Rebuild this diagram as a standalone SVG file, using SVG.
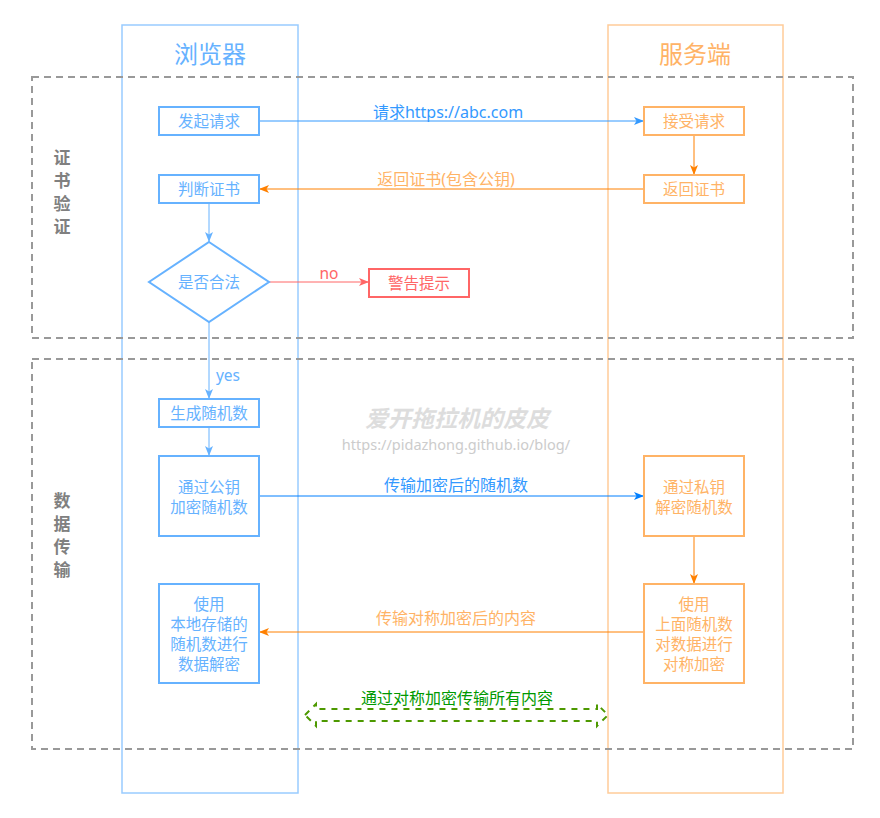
<svg xmlns="http://www.w3.org/2000/svg" width="880" height="818" viewBox="0 0 880 818">
<defs>
<style>
text{font-family:"Noto Sans","Noto Sans CJK SC",sans-serif;text-anchor:middle;dominant-baseline:central}
.lane-b{fill:none;stroke:#99CCFF;stroke-width:1.5}
.lane-o{fill:none;stroke:#FFCC99;stroke-width:1.5}
.grp{fill:none;stroke:#999999;stroke-width:2;stroke-dasharray:7 5}
.nb{fill:#fff;stroke:#66B2FF;stroke-width:2}
.no{fill:#fff;stroke:#FFB366;stroke-width:2}
.nr{fill:#fff;stroke:#FF6666;stroke-width:2}
.tb{fill:#66B2FF;font-size:15.5px}
.to{fill:#FFB366;font-size:15.5px}
.tr{fill:#FF6666;font-size:15.5px}
.title-b{fill:#66B2FF;font-size:24px}
.title-o{fill:#FFB366;font-size:24px}
.side{fill:#808080;font-size:17px;font-weight:bold}
.e{fill:none;stroke-width:1}
</style>
<marker id="ab" viewBox="0 0 10 10" refX="10" refY="5" markerWidth="10" markerHeight="10" markerUnits="userSpaceOnUse" orient="auto"><path d="M0,1 L10,5 L0,9 L2.5,5 Z" fill="#3399FF"/></marker>
<marker id="ab2" viewBox="0 0 10 10" refX="10" refY="5" markerWidth="10" markerHeight="10" markerUnits="userSpaceOnUse" orient="auto"><path d="M0,1 L10,5 L0,9 L2.5,5 Z" fill="#007FFF"/></marker>
<marker id="abl" viewBox="0 0 10 10" refX="10" refY="5" markerWidth="10" markerHeight="10" markerUnits="userSpaceOnUse" orient="auto"><path d="M0,1 L10,5 L0,9 L2.5,5 Z" fill="#66B2FF"/></marker>
<marker id="ao" viewBox="0 0 10 10" refX="10" refY="5" markerWidth="10" markerHeight="10" markerUnits="userSpaceOnUse" orient="auto"><path d="M0,1 L10,5 L0,9 L2.5,5 Z" fill="#FF8000"/></marker>
<marker id="ar" viewBox="0 0 10 10" refX="10" refY="5" markerWidth="10" markerHeight="10" markerUnits="userSpaceOnUse" orient="auto"><path d="M0,1 L10,5 L0,9 L2.5,5 Z" fill="#FF6666"/></marker>
</defs>
<rect width="880" height="818" fill="#fff"/>

<g id="lanes">
<rect class="lane-b" x="122" y="25" width="176" height="768"/>
<rect class="lane-o" x="608" y="25" width="175" height="768"/>
<text class="title-b" x="210" y="53">浏览器</text>
<text class="title-o" x="695" y="53">服务端</text>
</g>

<g id="groups">
<rect class="grp" x="32" y="77" width="821" height="261"/>
<rect class="grp" x="32" y="359" width="821" height="390"/>
<text class="side" x="62" y="157">证</text>
<text class="side" x="62" y="180">书</text>
<text class="side" x="62" y="203">验</text>
<text class="side" x="62" y="226">证</text>
<text class="side" x="62" y="500">数</text>
<text class="side" x="62" y="523">据</text>
<text class="side" x="62" y="546">传</text>
<text class="side" x="62" y="569">输</text>
</g>

<g id="watermark">
<text x="457" y="418" style="fill:#DDDDDD;font-size:23px;font-weight:bold;font-style:italic">爱开拖拉机的皮皮</text>
<text x="456" y="444" style="fill:#CCCCCC;font-size:14.5px">https://pidazhong.github.io/blog/</text>
</g>

<g id="connectors">
<path class="e" d="M259,121 L644,121" stroke="#3399FF" marker-end="url(#ab)"/>
<text x="448" y="112" style="fill:#3399FF;font-size:16px">请求https://abc.com</text>
<path class="e" d="M694,135 L694,175" stroke="#FF8000" marker-end="url(#ao)"/>
<path class="e" d="M644,189 L259,189" stroke="#FF8000" marker-end="url(#ao)"/>
<text x="446" y="179" style="fill:#FFB366;font-size:16px">返回证书(包含公钥)</text>
<path class="e" d="M209,203 L209,242" stroke="#66B2FF" marker-end="url(#abl)"/>
<path class="e" d="M269,282 L369,282" stroke="#FF6666" marker-end="url(#ar)"/>
<text x="329" y="273" class="tr">no</text>
<path class="e" d="M209,322 L209,399" stroke="#66B2FF" marker-end="url(#abl)"/>
<text x="228" y="375" class="tb">yes</text>
<path class="e" d="M209,427 L209,456" stroke="#66B2FF" marker-end="url(#abl)"/>
<path class="e" d="M259,496 L644,496" stroke="#007FFF" marker-end="url(#ab2)"/>
<text x="456" y="485" style="fill:#3399FF;font-size:16px">传输加密后的随机数</text>
<path class="e" d="M644,632 L259,632" stroke="#FF8000" marker-end="url(#ao)"/>
<text x="456" y="618" style="fill:#FFB366;font-size:16px">传输对称加密后的内容</text>
<path class="e" d="M694,536 L694,584" stroke="#FF8000" marker-end="url(#ao)"/>
<path d="M305,715 L316,704 L316,709 L597,709 L597,704 L608,715 L597,726 L597,721 L316,721 L316,726 Z" fill="none" stroke="#4D9900" stroke-width="2" stroke-dasharray="6 6"/>
<text x="457" y="698" style="fill:#009900;font-size:16px">通过对称加密传输所有内容</text>
</g>

<g id="n-send"><rect class="nb" x="159" y="107" width="100" height="28"/><text class="tb" x="209" y="121">发起请求</text></g>
<g id="n-recv"><rect class="no" x="644" y="107" width="100" height="28"/><text class="to" x="694" y="121">接受请求</text></g>
<g id="n-ret"><rect class="no" x="644" y="175" width="100" height="28"/><text class="to" x="694" y="189">返回证书</text></g>
<g id="n-judge"><rect class="nb" x="159" y="175" width="100" height="28"/><text class="tb" x="209" y="189">判断证书</text></g>
<g id="n-valid"><path class="nb" d="M209,242 L269,282 L209,322 L149,282 Z"/><text class="tb" x="209" y="282">是否合法</text></g>
<g id="n-warn"><rect class="nr" x="369" y="269" width="100" height="28"/><text class="tr" x="419" y="283">警告提示</text></g>
<g id="n-gen"><rect class="nb" x="159" y="399" width="100" height="28"/><text class="tb" x="209" y="413">生成随机数</text></g>
<g id="n-enc"><rect class="nb" x="159" y="456" width="100" height="80"/><text class="tb" x="209" y="487">通过公钥</text><text class="tb" x="209" y="507">加密随机数</text></g>
<g id="n-dec"><rect class="no" x="644" y="456" width="100" height="80"/><text class="to" x="694" y="487">通过私钥</text><text class="to" x="694" y="507">解密随机数</text></g>
<g id="n-symenc"><rect class="no" x="644" y="584" width="100" height="99"/><text class="to" x="694" y="604">使用</text><text class="to" x="694" y="624">上面随机数</text><text class="to" x="694" y="644">对数据进行</text><text class="to" x="694" y="664">对称加密</text></g>
<g id="n-symdec"><rect class="nb" x="159" y="584" width="100" height="99"/><text class="tb" x="209" y="604">使用</text><text class="tb" x="209" y="624">本地存储的</text><text class="tb" x="209" y="644">随机数进行</text><text class="tb" x="209" y="664">数据解密</text></g>
</svg>
